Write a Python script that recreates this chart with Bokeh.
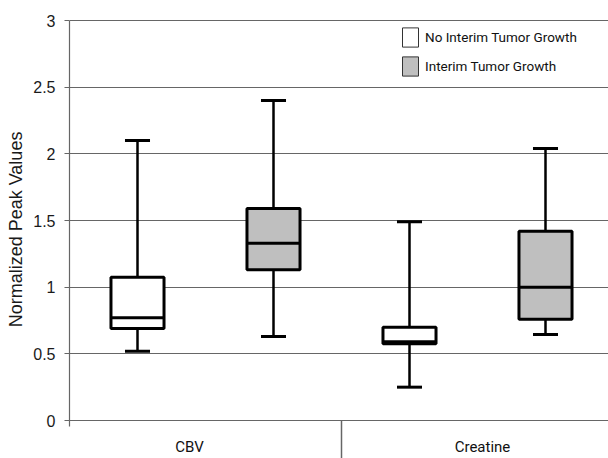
from bokeh.plotting import figure
from bokeh.models import Range1d, FixedTicker, Legend, LegendItem, ColumnDataSource
from bokeh.core.properties import value
from bokeh.embed import file_html
from bokeh.resources import INLINE

# ---- data ----
categories = ["CBV", "Creatine"]
groups = ["No Interim Tumor Growth", "Interim Tumor Growth"]
# order: CBV-no, CBV-yes, Creatine-no, Creatine-yes
lower = [0.52, 0.63, 0.25, 0.645]
q1 = [0.69, 1.13, 0.575, 0.76]
median = [0.77, 1.33, 0.59, 1.00]
q3 = [1.075, 1.59, 0.70, 1.42]
upper = [2.10, 2.40, 1.49, 2.04]
y_ticks = [0, 0.5, 1, 1.5, 2, 2.5, 3]

# ---- layout helpers ----
group_offsets = [-0.25, 0.25]
fills = ["white", "#bfbfbf"]
box_w = 0.195
cap_half = 0.046
Y0, Y1 = -0.285, 3.15

xs, fill_list = [], []
for ci, _ in enumerate(categories):
    for gi, _ in enumerate(groups):
        xs.append(ci + 0.5 + group_offsets[gi])
        fill_list.append(fills[gi])

src = ColumnDataSource(dict(
    x=xs, lower=lower, q1=q1, median=median, q3=q3, upper=upper, fill=fill_list,
    xl=[x - box_w / 2 for x in xs], xr=[x + box_w / 2 for x in xs],
    cl=[x - cap_half for x in xs], cr=[x + cap_half for x in xs],
))

p = figure(width=608, height=458, output_backend="svg", toolbar_location=None,
           x_range=Range1d(0, 539 / 272), y_range=Range1d(Y0, Y1),
           min_border_left=69, min_border_right=0, min_border_top=0, min_border_bottom=0,
           x_axis_location=None)
p.outline_line_color = None
p.xgrid.visible = False
p.ygrid.ticker = FixedTicker(ticks=y_ticks)
p.ygrid.grid_line_color = "#666666"
p.ygrid.grid_line_width = 1.2

ax = p.yaxis[0]
ax.ticker = FixedTicker(ticks=y_ticks)
ax.bounds = (-0.045, 3)
ax.axis_line_color = "#666666"
ax.axis_line_width = 1.2
ax.major_tick_line_color = "#666666"
ax.major_tick_line_width = 1.2
ax.major_tick_out = 5
ax.major_tick_in = 0
ax.minor_tick_line_color = None
ax.major_label_text_font = "Liberation Sans"
ax.major_label_text_font_size = "16px"
ax.major_label_text_color = "#1a1a1a"
ax.major_label_standoff = 9
ax.axis_label = "Normalized Peak Values"
ax.axis_label_text_font = "Liberation Sans"
ax.axis_label_text_font_size = "18px"
ax.axis_label_text_font_style = "normal"
ax.axis_label_text_color = "#1a1a1a"
ax.axis_label_standoff = 4

# category separator below the axis line
p.segment(x0=[1.0], y0=[0], x1=[1.0], y1=[Y0], line_color="#666666", line_width=1.5)

# category labels
p.text(x=[ci + 0.5 for ci in range(len(categories))], y=[-0.2] * len(categories),
       text=categories, x_offset=[-16, 5], text_align="center", text_baseline="middle",
       text_font=value("Roboto"), text_font_size="15px", text_color="#111111")

# whiskers
p.segment(x0="x", y0="lower", x1="x", y1="upper", source=src, line_color="black", line_width=2.5)
p.segment(x0="cl", y0="lower", x1="cr", y1="lower", source=src, line_color="black", line_width=3)
p.segment(x0="cl", y0="upper", x1="cr", y1="upper", source=src, line_color="black", line_width=3)
# boxes
p.vbar(x="x", width=box_w, bottom="q1", top="q3", source=src, fill_color="fill",
       line_color="black", line_width=3)
p.segment(x0="xl", y0="median", x1="xr", y1="median", source=src, line_color="black", line_width=3)

# legend proxies (placed outside the visible range)
items = []
for gi, g in enumerate(groups):
    r = p.vbar(x=[-5], width=0.1, top=[1], bottom=[0], fill_color=fills[gi],
               line_color="#333333", line_width=1)
    items.append(LegendItem(label=g, renderers=[r]))
leg = Legend(items=items, location=(331, 380), orientation="vertical",
             glyph_width=20, glyph_height=24, label_height=24, spacing=5,
             label_standoff=5, padding=0, margin=0,
             label_text_font="Roboto", label_text_font_size="13.5px",
             label_text_color="#111111",
             background_fill_alpha=0, border_line_color=None)
p.add_layout(leg)

open("out.html", "w").write(file_html(p, INLINE))
